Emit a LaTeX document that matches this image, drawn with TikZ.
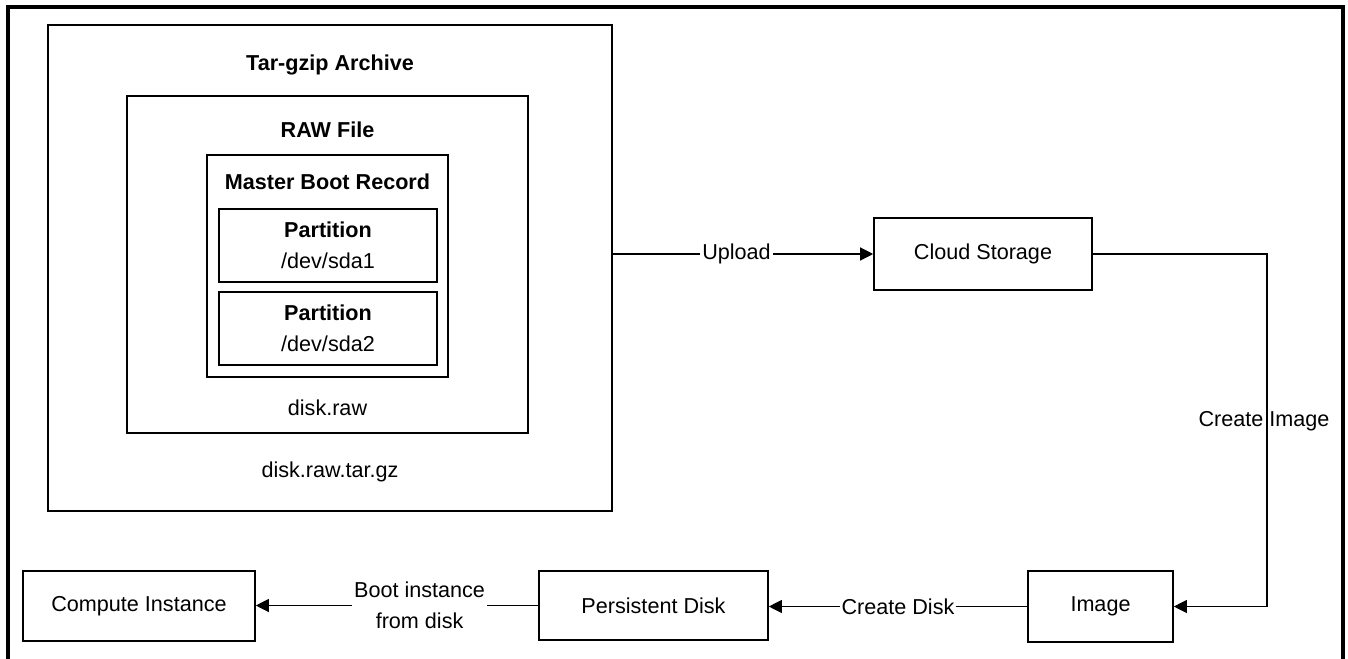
\documentclass[tikz,border=0pt]{standalone}
\usepackage{fontspec}
\setmainfont{Liberation Sans}
\usetikzlibrary{arrows.meta}
\tikzset{
  box/.style={draw, line width=0.8pt, inner sep=0pt},
  txt/.style={inner sep=0pt, align=center, font=\fontsize{10.8}{15.5}\selectfont},
  ttl/.style={inner sep=0pt, font=\fontsize{10.8}{15.5}\selectfont\bfseries},
  conn/.style={line width=0.6pt, -{Triangle[length=6.5pt,width=6.5pt]}},
  lbl/.style={txt, fill=white, inner sep=1pt}
}
\begin{document}
\begin{tikzpicture}[x=0.5pt,y=-0.5pt]
\useasboundingbox (0,0) rectangle (1348,658);
% outer frame (open at the bottom)
\draw[line width=1.6pt] (8,662) -- (8,7) -- (1343,7) -- (1343,662);

% nested archive boxes
\node[box, minimum width=282pt, minimum height=243pt] (nTar) at (330,268) {};
\node[box, minimum width=200.5pt, minimum height=168.5pt] (nRaw) at (327.5,264.5) {};
\node[box, minimum width=120.5pt, minimum height=111pt] (nMbr) at (327.5,266) {};
\node[box, txt, minimum width=109pt, minimum height=36.5pt] (nPartA) at (328,245.5) {\textbf{Partition}\\/dev/sda1};
\node[box, txt, minimum width=109pt, minimum height=36.5pt] (nPartB) at (328,328.5) {\textbf{Partition}\\/dev/sda2};

\node[ttl, anchor=base] (tTar) at (330,71) {Tar-gzip Archive};
\node[ttl, anchor=base] (tRaw) at (327.5,137) {RAW File};
\node[ttl, anchor=base] (tMbr) at (327.5,189) {Master Boot Record};
\node[txt, anchor=base] (tDiskRaw) at (327.5,415) {disk.raw};
\node[txt, anchor=base] (tDiskTgz) at (330,477) {disk.raw.tar.gz};

% flow boxes
\node[box, txt, minimum width=109pt, minimum height=36pt] (nCloud) at (983,254) {Cloud Storage};
\node[box, txt, minimum width=72.5pt, minimum height=35.5pt] (nImage) at (1100.5,606.5) {Image};
\node[box, txt, minimum width=114.5pt, minimum height=34.5pt] (nPDisk) at (653.5,605.5) {Persistent Disk};
\node[box, txt, minimum width=116pt, minimum height=35pt] (nCompute) at (139,606) {Compute Instance};

\coordinate (cBendPt) at (1267,254);

\draw[conn] (nTar.east |- nCloud.west) -- node[lbl, pos=0.475] {Upload} (nCloud.west);
\draw[conn] (nCloud.east) -- (cBendPt)
  -- node[txt, pos=0.474, xshift=-1.5pt] {Create Image} (cBendPt |- nImage.east) -- (nImage.east);
\draw[conn] (nImage.west) -- node[lbl] {Create Disk} (nPDisk.east |- nImage.west);
\draw[conn] (nPDisk.west) -- node[lbl, pos=0.42] {Boot instance\\from disk} (nCompute.east |- nPDisk.west);

\end{tikzpicture}
\end{document}
